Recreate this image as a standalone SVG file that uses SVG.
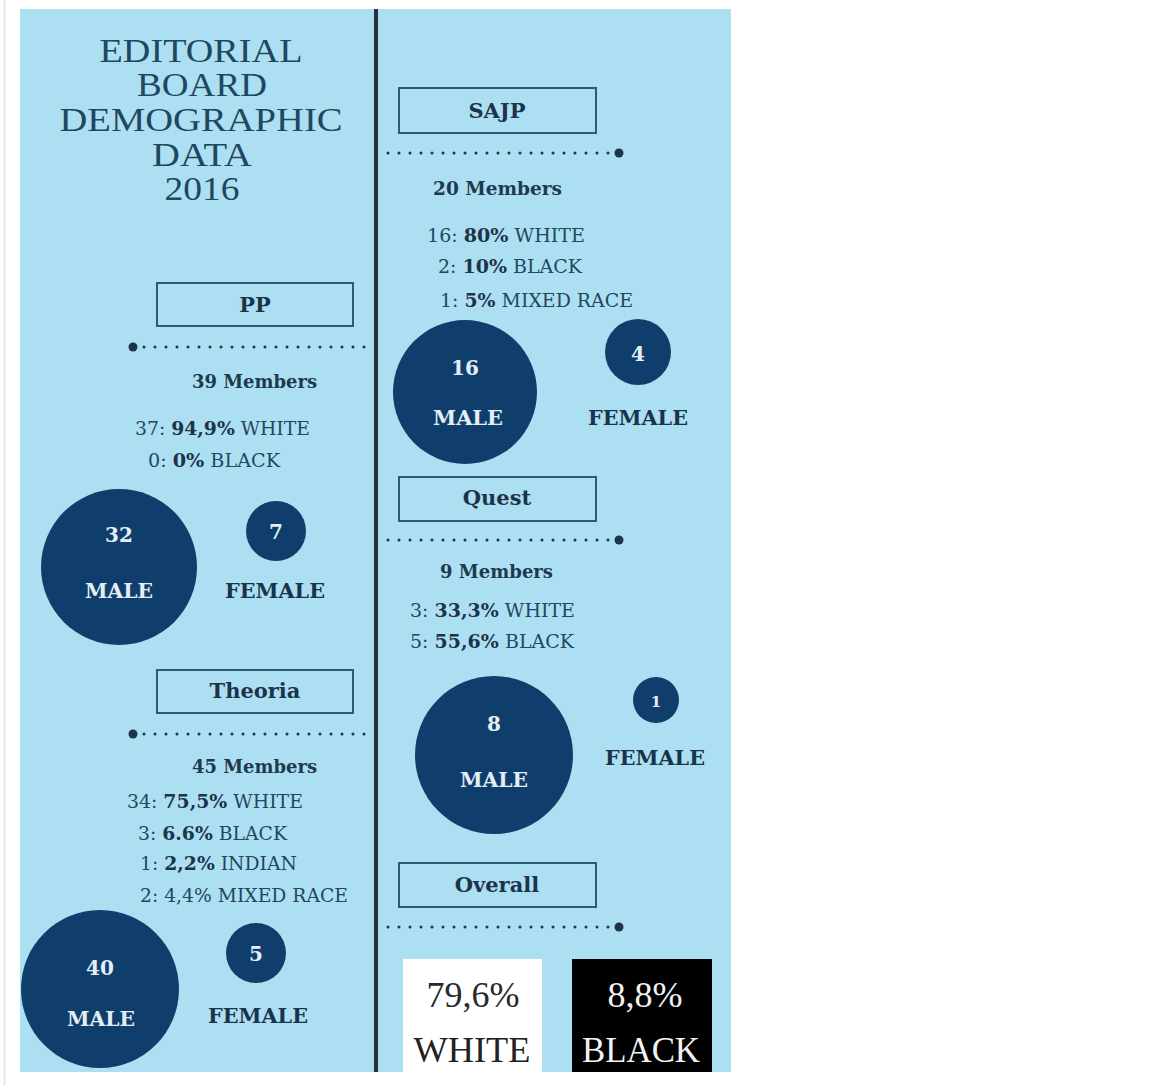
<svg xmlns="http://www.w3.org/2000/svg" width="1164" height="1085" viewBox="0 0 1164 1085">
<style>
.title{font-family:"Liberation Serif",serif;font-size:34px;fill:#1f4760;text-anchor:middle}
.box{fill:none;stroke:#2c5b73;stroke-width:2}
.boxt{font-family:"DejaVu Serif",serif;font-weight:bold;font-size:21px;fill:#1b3449;text-anchor:middle}
.mem{font-family:"DejaVu Serif",serif;font-weight:bold;font-size:18px;fill:#1e3a4f}
.stat{font-family:"DejaVu Serif",serif;font-size:18px;fill:#22475e}
.stat .b{font-weight:bold;fill:#1b3449}
.circ{fill:#0f3e6c}
.cnum{font-family:"DejaVu Serif",serif;font-size:20px;fill:#e3eef5;text-anchor:middle;font-weight:bold}
.clab{font-family:"DejaVu Serif",serif;font-size:21px;fill:#e3eef5;font-weight:bold}
.flab{font-family:"DejaVu Serif",serif;font-size:21px;fill:#17344c;font-weight:bold}
.dots{stroke:#1e3448;stroke-width:3;stroke-linecap:round;stroke-dasharray:0 11;fill:none}
.big{fill:#1e3448}
.ov{font-family:"Liberation Serif",serif;font-size:36px;text-anchor:middle}
</style>
<rect x="0" y="0" width="1164" height="1085" fill="#ffffff"/>
<line x1="4.5" y1="0" x2="4.5" y2="1085" stroke="#e6e6e6" stroke-width="2"/>
<rect x="20" y="9" width="711" height="1063" fill="#addff2"/>
<rect x="374" y="9" width="4" height="1063" fill="#27323d"/>

<g id="title">
<text class="title" x="201" y="62" textLength="203" lengthAdjust="spacingAndGlyphs">EDITORIAL</text>
<text class="title" x="202" y="96" textLength="130" lengthAdjust="spacingAndGlyphs">BOARD</text>
<text class="title" x="201" y="131" textLength="283" lengthAdjust="spacingAndGlyphs">DEMOGRAPHIC</text>
<text class="title" x="202" y="166" textLength="100" lengthAdjust="spacingAndGlyphs">DATA</text>
<text class="title" x="202" y="200" textLength="75" lengthAdjust="spacingAndGlyphs">2016</text>
</g>

<g id="connectors">
<line class="dots" x1="144" y1="347" x2="370" y2="347"/>
<circle class="big" cx="133" cy="347" r="4.5"/>
<line class="dots" x1="144" y1="734" x2="370" y2="734"/>
<circle class="big" cx="133" cy="734" r="4.5"/>
<line class="dots" x1="388" y1="153" x2="611" y2="153"/>
<circle class="big" cx="619" cy="153" r="4.5"/>
<line class="dots" x1="388" y1="540" x2="611" y2="540"/>
<circle class="big" cx="619" cy="540" r="4.5"/>
<line class="dots" x1="388" y1="927" x2="611" y2="927"/>
<circle class="big" cx="619" cy="927" r="4.5"/>
</g>

<g id="pp">
<rect class="box" x="157" y="283" width="196" height="43"/>
<text class="boxt" x="255" y="312">PP</text>
<text class="mem" x="192" y="388" textLength="125" lengthAdjust="spacingAndGlyphs">39 Members</text>
<text class="stat" x="135" y="435" textLength="175" lengthAdjust="spacingAndGlyphs">37: <tspan class="b">94,9%</tspan> WHITE</text>
<text class="stat" x="148" y="467" textLength="132" lengthAdjust="spacingAndGlyphs">0: <tspan class="b">0%</tspan> BLACK</text>
</g>
<g id="pp-male">
<circle class="circ" cx="119" cy="567" r="78"/>
<text class="cnum" x="119" y="542">32</text>
<text class="clab" x="85" y="598" textLength="68" lengthAdjust="spacingAndGlyphs">MALE</text>
</g>
<g id="pp-female">
<circle class="circ" cx="276" cy="531" r="30"/>
<text class="cnum" x="276" y="539">7</text>
<text class="flab" x="225" y="598" textLength="100" lengthAdjust="spacingAndGlyphs">FEMALE</text>
</g>

<g id="theoria">
<rect class="box" x="157" y="670" width="196" height="43"/>
<text class="boxt" x="255" y="698">Theoria</text>
<text class="mem" x="192" y="773" textLength="125" lengthAdjust="spacingAndGlyphs">45 Members</text>
<text class="stat" x="127" y="808" textLength="176" lengthAdjust="spacingAndGlyphs">34: <tspan class="b">75,5%</tspan> WHITE</text>
<text class="stat" x="138" y="840" textLength="149" lengthAdjust="spacingAndGlyphs">3: <tspan class="b">6.6%</tspan> BLACK</text>
<text class="stat" x="140" y="870" textLength="157" lengthAdjust="spacingAndGlyphs">1: <tspan class="b">2,2%</tspan> INDIAN</text>
<text class="stat" x="140" y="902" textLength="208" lengthAdjust="spacingAndGlyphs">2: 4,4% MIXED RACE</text>
</g>
<g id="theoria-male">
<circle class="circ" cx="100" cy="989" r="79"/>
<text class="cnum" x="100" y="975">40</text>
<text class="clab" x="67" y="1026" textLength="68" lengthAdjust="spacingAndGlyphs">MALE</text>
</g>
<g id="theoria-female">
<circle class="circ" cx="256" cy="953" r="30"/>
<text class="cnum" x="256" y="961">5</text>
<text class="flab" x="208" y="1023" textLength="100" lengthAdjust="spacingAndGlyphs">FEMALE</text>
</g>

<g id="sajp">
<rect class="box" x="399" y="88" width="197" height="45"/>
<text class="boxt" x="497" y="118">SAJP</text>
<text class="mem" x="433" y="195" textLength="129" lengthAdjust="spacingAndGlyphs">20 Members</text>
<text class="stat" x="427" y="242" textLength="158" lengthAdjust="spacingAndGlyphs">16: <tspan class="b">80%</tspan> WHITE</text>
<text class="stat" x="438" y="273" textLength="144" lengthAdjust="spacingAndGlyphs">2: <tspan class="b">10%</tspan> BLACK</text>
<text class="stat" x="440" y="307" textLength="193" lengthAdjust="spacingAndGlyphs">1: <tspan class="b">5%</tspan> MIXED RACE</text>
</g>
<g id="sajp-male">
<circle class="circ" cx="465" cy="392" r="72"/>
<text class="cnum" x="465" y="375">16</text>
<text class="clab" x="433" y="425" textLength="70" lengthAdjust="spacingAndGlyphs">MALE</text>
</g>
<g id="sajp-female">
<circle class="circ" cx="638" cy="352" r="33"/>
<text class="cnum" x="638" y="361">4</text>
<text class="flab" x="588" y="425" textLength="100" lengthAdjust="spacingAndGlyphs">FEMALE</text>
</g>

<g id="quest">
<rect class="box" x="399" y="477" width="197" height="44"/>
<text class="boxt" x="497" y="505">Quest</text>
<text class="mem" x="440" y="578" textLength="113" lengthAdjust="spacingAndGlyphs">9 Members</text>
<text class="stat" x="410" y="617" textLength="165" lengthAdjust="spacingAndGlyphs">3: <tspan class="b">33,3%</tspan> WHITE</text>
<text class="stat" x="410" y="648" textLength="164" lengthAdjust="spacingAndGlyphs">5: <tspan class="b">55,6%</tspan> BLACK</text>
</g>
<g id="quest-male">
<circle class="circ" cx="494" cy="755" r="79"/>
<text class="cnum" x="494" y="731">8</text>
<text class="clab" x="460" y="787" textLength="68" lengthAdjust="spacingAndGlyphs">MALE</text>
</g>
<g id="quest-female">
<circle class="circ" cx="656" cy="700" r="23"/>
<text class="cnum" x="656" y="707" style="font-size:15px">1</text>
<text class="flab" x="605" y="765" textLength="100" lengthAdjust="spacingAndGlyphs">FEMALE</text>
</g>

<g id="overall">
<rect class="box" x="399" y="863" width="197" height="44"/>
<text class="boxt" x="497" y="892">Overall</text>
</g>
<g id="overall-white">
<rect x="403" y="959" width="139" height="113" fill="#ffffff"/>
<text class="ov" x="473" y="1007" fill="#2a2a2a">79,6%</text>
<text class="ov" x="472" y="1062" fill="#222222" textLength="117" lengthAdjust="spacingAndGlyphs">WHITE</text>
</g>
<g id="overall-black">
<rect x="572" y="959" width="140" height="113" fill="#000000"/>
<text class="ov" x="645" y="1007" fill="#f2f2f2">8,8%</text>
<text class="ov" x="641" y="1062" fill="#f2f2f2" textLength="118" lengthAdjust="spacingAndGlyphs">BLACK</text>
</g>
</svg>
